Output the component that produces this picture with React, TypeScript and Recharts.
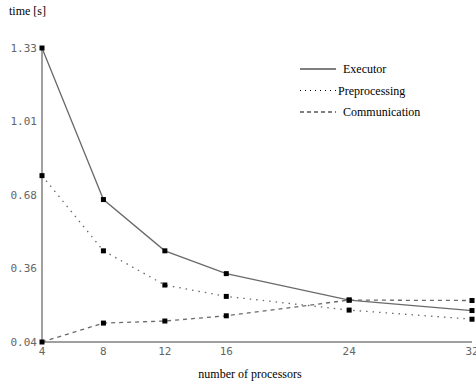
import { CartesianGrid, Line, LineChart, XAxis, YAxis } from "recharts";

const processors = [4, 8, 12, 16, 24, 32];
const executor = [1.33, 0.665, 0.44, 0.34, 0.224, 0.178];
const preprocessing = [0.77, 0.44, 0.29, 0.24, 0.18, 0.14];
const communication = [0.04, 0.123, 0.132, 0.155, 0.224, 0.222];
const yTicks = [0.04, 0.3625, 0.685, 1.0075, 1.33];
const yTickLabels = ["0.04", "0.36", "0.68", "1.01", "1.33"];

const series = [
  { key: "executor", label: "Executor", dash: undefined },
  { key: "preprocessing", label: "Preprocessing", dash: "1.5 5" },
  { key: "communication", label: "Communication", dash: "4 4" },
];

const data = processors.map((n, i) => ({
  n,
  executor: executor[i],
  preprocessing: preprocessing[i],
  communication: communication[i],
}));

const LINE_COLOR = "#6a6a6a";
const AXIS_COLOR = "#808080";
const TICK_FONT = "'DejaVu Sans Mono', monospace";
const TEXT_FONT = "'Liberation Serif', 'Times New Roman', serif";

function SquareDot(props: any) {
  const { cx, cy } = props;
  if (cx == null || cy == null) return null;
  return <rect x={cx - 2.5} y={cy - 2.5} width={5} height={5} fill="#000" />;
}

export default function App() {
  return (
    <div
      style={{
        position: "absolute",
        left: 0,
        top: 0,
        width: 476,
        height: 387,
        overflow: "hidden",
        background: "#fff",
      }}
    >
      <LineChart
        width={500}
        height={387}
        data={data}
        margin={{ top: 48, right: 28, bottom: 15, left: 0 }}
      >
        <CartesianGrid stroke="none" />
        <XAxis
          dataKey="n"
          type="number"
          domain={[4, 32]}
          ticks={processors}
          height={30}
          stroke={AXIS_COLOR}
          strokeWidth={1.5}
          tickLine={false}
          tickSize={3}
          tick={{ fill: "#666", fontSize: 11, fontFamily: TICK_FONT }}
        />
        <YAxis
          type="number"
          domain={[0.04, 1.33]}
          ticks={yTicks}
          width={42}
          stroke={AXIS_COLOR}
          strokeWidth={1.5}
          tickLine={false}
          tickSize={3}
          tickFormatter={(v: number) => yTickLabels[yTicks.indexOf(v)] ?? ""}
          tick={{ fill: "#666", fontSize: 11, fontFamily: TICK_FONT }}
        />
        {series.map((s) => (
          <Line
            key={s.key}
            dataKey={s.key}
            type="linear"
            stroke={LINE_COLOR}
            strokeWidth={1.3}
            strokeDasharray={s.dash}
            dot={<SquareDot />}
            activeDot={false}
            isAnimationActive={false}
          />
        ))}
      </LineChart>
      <div
        style={{
          position: "absolute",
          left: 9,
          top: 4,
          fontFamily: TEXT_FONT,
          fontSize: 12,
          color: "#000",
        }}
      >
        time [s]
      </div>
      <div
        style={{
          position: "absolute",
          left: 0,
          width: 500,
          top: 367,
          textAlign: "center",
          fontFamily: TEXT_FONT,
          fontSize: 12,
          color: "#000",
        }}
      >
        number of processors
      </div>
      <svg
        width={200}
        height={70}
        style={{ position: "absolute", left: 296, top: 58 }}
      >
        {series.map((s, i) => (
          <g key={s.key}>
            <line
              x1={4}
              x2={40}
              y1={11 + i * 21.5}
              y2={11 + i * 21.5}
              stroke="#000"
              strokeWidth={1.2}
              strokeDasharray={s.dash === "4 4" ? "4 3" : s.dash ? "1 4" : undefined}
            />
            <text
              x={s.key === "preprocessing" ? 42 : 47}
              y={15 + i * 21.5}
              fontFamily={TEXT_FONT}
              fontSize={12}
              fill="#000"
            >
              {s.label}
            </text>
          </g>
        ))}
      </svg>
    </div>
  );
}
